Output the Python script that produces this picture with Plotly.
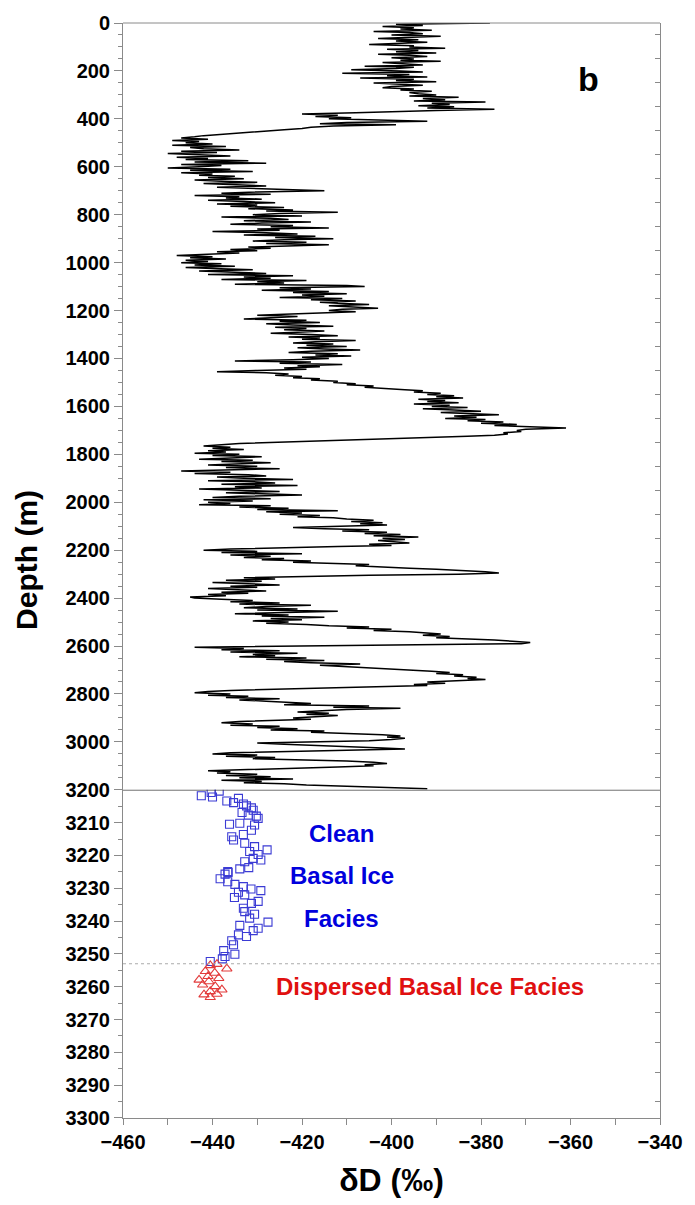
import plotly.graph_objects as go

# ---------------- data ----------------
depth_m = list(range(0, 3200, 5))  # sampling depth of the deltaD profile (m)

delta_d = [
    -378, -399, -393, -402, -395, -398, -391, -404, -396, -393, -400, -389, -397, -403, -394, -399, -392, -398, -405, -395,
    -396, -388, -401, -394, -399, -390, -403, -396, -392, -400, -395, -398, -389, -402, -397, -393, -406, -395, -399, -409,
    -398, -393, -411, -396, -401, -392, -407, -395, -399, -390, -404, -397, -393, -400, -402, -395, -398, -391, -396, -394,
    -390, -396, -385, -393, -388, -395, -379, -391, -387, -394, -386, -392, -377, -390, -398, -408, -420, -412, -417, -409,
    -414, -405, -392, -410, -416, -399, -413, -418, -420, -424, -428, -431, -435, -438, -442, -444, -447, -441, -449, -443,
    -446, -440, -449, -437, -445, -442, -434, -447, -439, -450, -444, -436, -448, -441, -446, -432, -444, -428, -447, -438,
    -443, -450, -436, -445, -431, -447, -440, -443, -435, -441, -433, -444, -438, -430, -442, -436, -428, -439, -432, -425,
    -415, -430, -438, -427, -444, -434, -437, -429, -441, -433, -426, -439, -430, -436, -424, -432, -422, -428, -412, -425,
    -431, -420, -438, -427, -423, -433, -418, -429, -436, -422, -427, -414, -430, -425, -440, -428, -421, -433, -417, -426,
    -413, -424, -431, -419, -428, -414, -425, -432, -427, -436, -430, -439, -434, -443, -448, -440, -445, -437, -446, -441,
    -447, -438, -444, -435, -446, -440, -431, -443, -437, -428, -441, -422, -433, -427, -438, -419, -430, -424, -435, -410,
    -406, -425, -418, -429, -414, -422, -410, -420, -415, -425, -411, -418, -408, -416, -412, -405, -414, -409, -403, -411,
    -414, -408, -418, -424, -430, -421, -427, -433, -419, -425, -416, -428, -422, -413, -426, -419, -424, -415, -421, -427,
    -418, -412, -423, -416, -420, -408, -417, -422, -413, -419, -410, -421, -415, -407, -418, -423, -412, -417, -409, -420,
    -414, -422, -435, -418, -425, -411, -421, -416, -424, -419, -430, -439, -428, -423, -426, -420, -422, -416, -418, -412,
    -413, -408, -410, -404, -406, -400, -397, -393, -395, -389, -392, -386, -390, -384, -394, -388, -392, -385, -395, -387,
    -391, -383, -393, -386, -380, -389, -384, -376, -386, -381, -388, -379, -383, -375, -380, -372, -377, -368, -361, -370,
    -372, -371, -375, -374, -377, -383, -392, -402, -411, -420, -428, -434, -438, -442, -436, -440, -433, -441, -437, -444,
    -434, -440, -429, -437, -443, -431, -438, -427, -435, -441, -430, -437, -425, -439, -447, -436, -444, -432, -428, -439,
    -433, -422, -441, -430, -426, -438, -421, -435, -429, -443, -432, -425, -437, -428, -420, -434, -440, -427, -442, -431,
    -441, -436, -443, -427, -434, -423, -430, -412, -428, -420, -425, -416, -421, -413, -410, -404, -409, -402, -407, -401,
    -410, -422, -415, -405, -411, -401, -406, -398, -404, -394, -402, -397, -403, -399, -396, -405, -400, -412, -425, -436,
    -442, -430, -438, -420, -436, -427, -433, -424, -429, -418, -422, -412, -405, -408, -400, -396, -390, -384, -379, -376,
    -385, -405, -421, -433, -426, -437, -429, -440, -432, -425, -436, -430, -441, -434, -428, -438, -432, -441, -437, -445,
    -444, -438, -431, -436, -425, -434, -418, -428, -433, -421, -430, -412, -426, -435, -423, -429, -415, -427, -420, -431,
    -423, -428, -419, -414, -405, -410, -400, -404, -396, -392, -389, -393, -387, -390, -382, -377, -373, -369, -371, -398,
    -425, -444, -433, -438, -425, -436, -421, -431, -426, -434, -419, -428, -415, -424, -418, -407, -416, -411, -404, -398,
    -395, -391, -387, -390, -384, -386, -381, -383, -379, -386, -392, -388, -395, -392, -405, -418, -428, -436, -441, -444,
    -436, -441, -432, -437, -425, -434, -428, -422, -418, -424, -405, -413, -398, -410, -416, -421, -414, -419, -412, -416,
    -422, -418, -428, -434, -438, -431, -436, -425, -430, -421, -427, -415, -418, -408, -402, -398, -401, -397, -400, -405,
    -418, -430, -424, -415, -407, -402, -397, -410, -425, -436, -440, -430, -437, -426, -431, -418, -410, -404, -401, -406,
    -404, -412, -420, -432, -441, -436, -439, -430, -437, -427, -434, -422, -438, -429, -433, -424, -419, -410, -400, -392,
]

# Clean basal ice facies (blue squares)
clean_dD = [-442.5, -440.3, -438.5, -440.0, -436.8, -435.3, -434.2, -433.1, -432.4, -431.3,
            -430.9, -433.4, -429.8, -430.2, -432.0, -433.9, -436.2, -430.6, -431.3, -433.1,
            -435.7, -435.3, -432.8, -430.6, -427.8, -431.7, -429.8, -430.9, -429.2, -432.8,
            -431.9, -433.9, -436.6, -436.5, -437.2, -438.3, -436.6, -435.0, -433.1, -431.4,
            -429.2, -434.2, -432.8, -435.1, -429.8, -431.3, -433.1, -432.8, -430.6, -427.6,
            -431.7, -433.9, -429.8, -430.9, -432.4, -434.2, -435.7, -435.3, -437.5, -435.0,
            -437.2, -437.8, -440.5]
clean_depth = [3201.8, 3200.8, 3200.4, 3202.2, 3203.4, 3203.9, 3202.6, 3204.3, 3204.9, 3205.5,
               3206.2, 3206.9, 3208.7, 3208.0, 3207.7, 3210.2, 3210.5, 3210.7, 3212.3, 3213.6,
               3214.3, 3215.3, 3216.3, 3217.3, 3218.3, 3218.8, 3219.7, 3220.9, 3221.4, 3221.9,
               3223.7, 3224.1, 3224.9, 3225.2, 3225.7, 3227.1, 3228.0, 3228.8, 3229.5, 3230.2,
               3230.7, 3231.2, 3232.0, 3232.8, 3234.0, 3234.6, 3236.1, 3237.1, 3237.9, 3240.3,
               3239.1, 3241.3, 3242.2, 3242.9, 3244.7, 3244.2, 3246.0, 3247.2, 3249.0, 3250.1,
               3250.8, 3251.5, 3252.3]

# Dispersed basal ice facies (red triangles)
dispersed_dD = [-440.5, -436.8, -439.0, -441.6, -439.5, -441.0, -443.0, -440.8, -438.6, -442.2,
                -439.4, -440.5, -437.9, -441.9, -439.0, -440.5]
dispersed_depth = [3253.5, 3254.5, 3253.1, 3255.3, 3255.8, 3256.8, 3257.9, 3258.4, 3257.4, 3259.4,
                   3259.9, 3261.4, 3260.9, 3262.4, 3262.2, 3263.2]

x_tick_vals = [-460, -440, -420, -400, -380, -360, -340]
x_minor_vals = [-450, -430, -410, -390, -370, -350]
upper_tick_vals = list(range(0, 3201, 200))
upper_minor_vals = [v for v in range(0, 3201, 50) if v % 200 != 0]
upper_right_vals = list(range(50, 3200, 100))
lower_tick_vals = list(range(3210, 3301, 10))
lower_minor_vals = list(range(3205, 3300, 10))
lower_right_vals = [3205, 3214, 3223, 3232, 3241, 3250, 3259, 3268, 3277, 3286, 3295]

boundary_depth = 3200
facies_boundary = 3253

# ---------------- styling ----------------
FONT = "Liberation Sans, Arial, sans-serif"
GRAY = "#8a8a8a"
SPLIT = 0.2997  # paper fraction of the lower (basal ice) panel

fig = go.Figure()
fig.add_trace(go.Scatter(x=delta_d, y=depth_m, mode="lines",
                         line=dict(color="black", width=1.5),
                         xaxis="x", yaxis="y", showlegend=False, hoverinfo="skip"))
fig.add_trace(go.Scatter(x=clean_dD, y=clean_depth, mode="markers",
                         marker=dict(symbol="square-open", size=8, color="#3b3bd4",
                                     line=dict(width=1.1)),
                         xaxis="x", yaxis="y2", showlegend=False))
fig.add_trace(go.Scatter(x=dispersed_dD, y=dispersed_depth, mode="markers",
                         marker=dict(symbol="triangle-up-open", size=9, color="#e23b3b",
                                     line=dict(width=1.1)),
                         xaxis="x", yaxis="y2", showlegend=False))
# carriers for the right-hand tick axes
fig.add_trace(go.Scatter(x=[None], y=[None], xaxis="x", yaxis="y3", showlegend=False))
fig.add_trace(go.Scatter(x=[None], y=[None], xaxis="x", yaxis="y4", showlegend=False))

tickfont = dict(family=FONT, size=20, color="black", weight="bold")
common_y = dict(showgrid=False, zeroline=False, showline=True, linecolor=GRAY, linewidth=1,
                ticks="outside", tickcolor=GRAY, ticklen=8, tickwidth=1, tickfont=tickfont)

fig.update_layout(
    width=695, height=1205,
    margin=dict(l=123, r=27, t=17, b=87),
    paper_bgcolor="white", plot_bgcolor="white",
    font=dict(family=FONT, color="black"),
    showlegend=False,
    xaxis=dict(domain=[0, 1], anchor="y2", range=[-460, -340],
               tickmode="array", tickvals=x_tick_vals,
               showgrid=False, zeroline=False, showline=True, linecolor=GRAY, linewidth=1,
               ticks="outside", tickcolor=GRAY, ticklen=6, tickfont=tickfont,
               minor=dict(tickmode="array", tickvals=x_minor_vals, ticks="outside",
                          ticklen=6, tickcolor=GRAY, showgrid=False),
               title=dict(text="δD (‰)", standoff=16,
                          font=dict(family=FONT, size=32, color="black", weight="bold"))),
    yaxis=dict(domain=[SPLIT, 1], anchor="x", range=[boundary_depth, 0],
               tickmode="array", tickvals=upper_tick_vals,
               minor=dict(tickmode="array", tickvals=upper_minor_vals, ticks="outside",
                          ticklen=4, tickcolor=GRAY, showgrid=False),
               **common_y),
    yaxis2=dict(domain=[0, SPLIT], anchor="x", range=[3300, boundary_depth],
                tickmode="array", tickvals=lower_tick_vals,
                minor=dict(tickmode="array", tickvals=lower_minor_vals, ticks="outside",
                           ticklen=4, tickcolor=GRAY, showgrid=False),
                **common_y),
    yaxis3=dict(overlaying="y", side="right", anchor="x", range=[boundary_depth, 0],
                tickmode="array", tickvals=upper_right_vals, ticks="inside", ticklen=5,
                tickcolor=GRAY, showticklabels=False, showgrid=False, zeroline=False,
                showline=True, linecolor=GRAY, linewidth=1),
    yaxis4=dict(overlaying="y2", side="right", anchor="x", range=[3300, boundary_depth],
                tickmode="array", tickvals=lower_right_vals, ticks="inside", ticklen=5,
                tickcolor=GRAY, showticklabels=False, showgrid=False, zeroline=False,
                showline=True, linecolor=GRAY, linewidth=1),
    shapes=[
        dict(type="line", xref="paper", yref="paper", x0=0, x1=1, y0=1, y1=1,
             line=dict(color=GRAY, width=1)),
        dict(type="line", xref="paper", yref="y2", x0=0, x1=1,
             y0=boundary_depth, y1=boundary_depth, line=dict(color="#333333", width=1.2)),
        dict(type="line", xref="paper", yref="y2", x0=0, x1=1,
             y0=facies_boundary, y1=facies_boundary,
             line=dict(color="#aaaaaa", width=1, dash="dot")),
    ],
    annotations=[
        dict(text="Depth (m)", xref="paper", yref="paper", x=-0.18, y=0.51,
             textangle=-90, showarrow=False, xanchor="center", yanchor="middle",
             font=dict(family=FONT, size=30, color="black", weight="bold")),
        dict(text="b", xref="paper", yref="paper", x=0.866, y=0.949, showarrow=False,
             xanchor="center", yanchor="middle",
             font=dict(family=FONT, size=34, color="black", weight="bold")),
        dict(text="Clean", xref="x", yref="y2", x=-411.1, y=3213.4, showarrow=False,
             font=dict(family=FONT, size=24, color="#0000dd", weight="bold")),
        dict(text="Basal Ice", xref="x", yref="y2", x=-411.1, y=3226.1, showarrow=False,
             font=dict(family=FONT, size=24, color="#0000dd", weight="bold")),
        dict(text="Facies", xref="x", yref="y2", x=-411.1, y=3239.2, showarrow=False,
             font=dict(family=FONT, size=24, color="#0000dd", weight="bold")),
        dict(text="Dispersed Basal Ice Facies", xref="x", yref="y2", x=-391.3, y=3259.9,
             showarrow=False,
             font=dict(family=FONT, size=24, color="#e01010", weight="bold")),
    ],
)

fig.write_html("out.html")
